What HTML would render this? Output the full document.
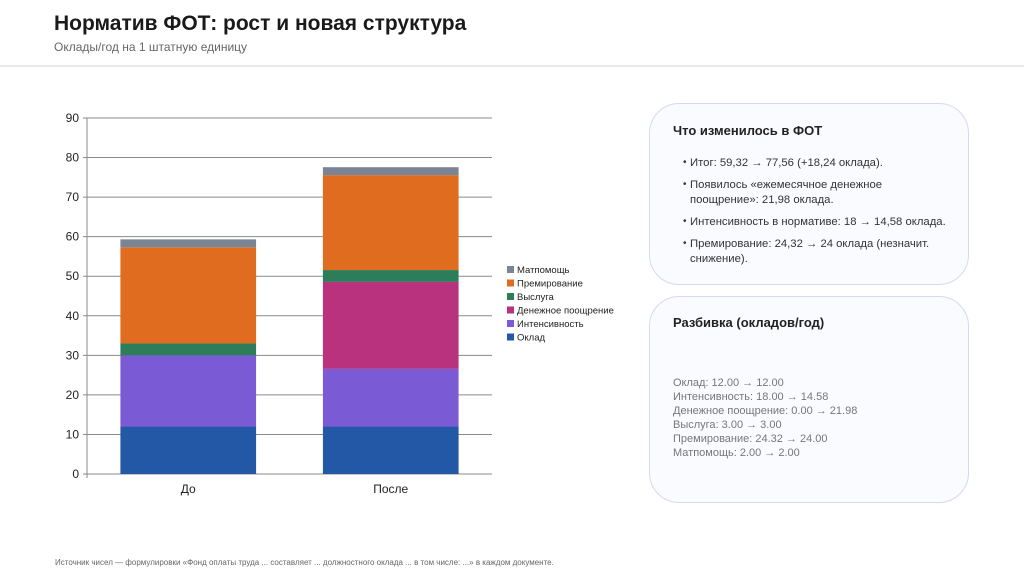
<!DOCTYPE html>
<html><head><meta charset="utf-8"><style>
body{margin:0;width:1024px;height:576px;background:#fff;font-family:"Liberation Sans","Noto Sans CJK SC",sans-serif;position:relative;overflow:hidden}
.hdr{position:absolute;left:0;top:0;width:1024px;height:65px;border-bottom:2px solid #e6e8ee;background:#fff}
.t{position:absolute;left:54px;top:12px;font-size:21px;font-weight:bold;color:#1a1a1a}
.s{position:absolute;left:54px;top:40px;font-size:12px;color:#666}
.card{position:absolute;left:649px;width:320px;border:1.5px solid #d6d9f0;border-radius:30px;background:#fafbff;box-sizing:border-box}
.card h3{margin:0;position:absolute;left:23px;font-size:13px;font-weight:bold;color:#222}
ul{position:absolute;left:40px;top:52px;margin:0;padding:0;list-style:none;font-size:11.3px;color:#333;width:262px}
li{margin-bottom:7px;line-height:15px;position:relative}
li:before{content:"•";position:absolute;left:-7px;top:-1px;font-size:10px}
.br{position:absolute;left:23px;top:79px;font-size:11px;color:#777;line-height:14px}
.ft{position:absolute;left:55px;top:558px;font-size:8px;color:#666}
</style></head><body>
<div class="hdr">
<div class="t">Норматив ФОТ: рост и новая структура</div>
<div class="s">Оклады/год на 1 штатную единицу</div>
</div>
<svg id="chart" width="640" height="520" style="position:absolute;left:0;top:0"></svg>
<div class="card" style="top:103px;height:182px">
<h3 style="top:19px">Что изменилось в ФОТ</h3>
<ul>
<li>Итог: 59,32 → 77,56 (+18,24 оклада).</li>
<li>Появилось «ежемесячное денежное<br>поощрение»: 21,98 оклада.</li>
<li>Интенсивность в нормативе: 18 → 14,58 оклада.</li>
<li>Премирование: 24,32 → 24 оклада (незначит.<br>снижение).</li>
</ul></div>
<div class="card" style="top:296px;height:207px">
<h3 style="top:18px">Разбивка (окладов/год)</h3>
<div class="br">Оклад: 12.00 → 12.00<br>Интенсивность: 18.00 → 14.58<br>Денежное поощрение: 0.00 → 21.98<br>Выслуга: 3.00 → 3.00<br>Премирование: 24.32 → 24.00<br>Матпомощь: 2.00 → 2.00</div>
</div>
<div class="ft">Источник чисел — формулировки «Фонд оплаты труда ... составляет ... должностного оклада ... в том числе: ...» в каждом документе.</div>
<script>
const categories=["До","После"];
const seriesNames=["Оклад","Интенсивность","Денежное поощрение","Выслуга","Премирование","Матпомощь"];
const seriesColors=["#2358a6","#7b5ad6","#b8327e","#2e7d5a","#e06c20","#7a8494"];
const okladVals=[12,12];
const intensVals=[18,14.58];
const pooshVals=[0,21.98];
const vyslugaVals=[3,3];
const premVals=[24.32,24];
const matpomVals=[2,2];
const yTicks=[0,10,20,30,40,50,60,70,80,90];
const series=[okladVals,intensVals,pooshVals,vyslugaVals,premVals,matpomVals];
const svg=document.getElementById('chart');const NS="http://www.w3.org/2000/svg";
const x0=87,x1=492,yb=474,yt=118,ymax=90;
const Y=v=>yb-(v/ymax)*(yb-yt);
const band=(x1-x0)/categories.length;
const X=i=>x0+band*(i+0.5);
function mk(t,a){const e=document.createElementNS(NS,t);for(const k in a)e.setAttribute(k,a[k]);svg.appendChild(e);return e;}
yTicks.forEach(v=>{
const l=mk('line',{x1:x0-4,x2:x1,y1:Y(v),y2:Y(v),stroke:'#8a8a8a','stroke-width':1});

const t=mk('text',{x:x0-8,y:Y(v)+4,'text-anchor':'end','font-size':12,fill:'#222'});t.textContent=v;

});
const ax=mk('line',{x1:x0,x2:x0,y1:yt,y2:yb+4,stroke:'#8a8a8a'});

const bw=band*0.67;
categories.forEach((c,i)=>{
let acc=0;
series.forEach((s,k)=>{
const v=s[i];if(v<=0)return;
const r=mk('rect',{x:X(i)-bw/2,y:Y(acc+v),width:bw,height:Y(acc)-Y(acc+v),fill:seriesColors[k]});

acc+=v;});
const t=mk('text',{x:X(i),y:yb+19,'text-anchor':'middle','font-size':12,fill:'#222'});t.textContent=c;

});
for(let k=seriesNames.length-1;k>=0;k--){
const row=seriesNames.length-1-k;const y=266+row*13.5;
const r=mk('rect',{x:507,y:y,width:7,height:7,fill:seriesColors[k]});

const t=mk('text',{x:517,y:y+7,'font-size':9.5,fill:'#222'});t.textContent=seriesNames[k];

}
</script>
</body></html>
